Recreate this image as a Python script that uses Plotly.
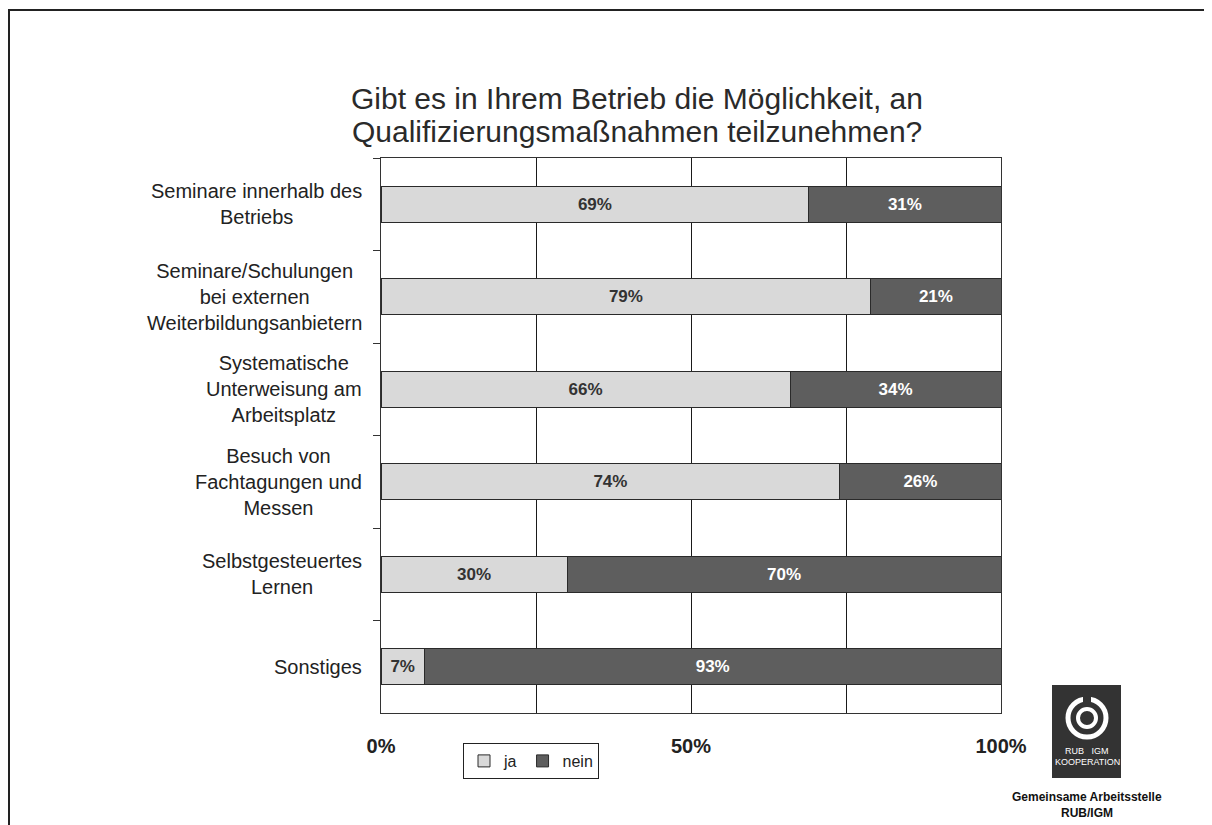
import plotly.graph_objects as go

categories = [
    "Seminare innerhalb des<br>Betriebs",
    "Seminare/Schulungen<br>bei externen<br>Weiterbildungsanbietern",
    "Systematische<br>Unterweisung am<br>Arbeitsplatz",
    "Besuch von<br>Fachtagungen und<br>Messen",
    "Selbstgesteuertes<br>Lernen",
    "Sonstiges",
]
ja = [69, 79, 66, 74, 30, 7]
nein = [31, 21, 34, 26, 70, 93]
x_tickvals = [0, 50, 100]
x_ticktext = ["0%", "50%", "100%"]
title_lines = ["Gibt es in Ihrem Betrieb die Möglichkeit, an",
               "Qualifizierungsmaßnahmen teilzunehmen?"]

W, H = 1212, 825
OFF = 8  # page body margin
# plot area in screenshot pixels: x 381..1001, y 158..713
L = 381 - OFF
T = 158 - OFF
R = W - (1001 - OFF)
B = H - (713 - OFF)
PW, PH = W - L - R, H - T - B


def px(x):
    """screenshot x -> paper x"""
    return (x - OFF - L) / PW


def py(y):
    """screenshot y -> paper y"""
    return (H - B - (y - OFF)) / PH


FONT = "Liberation Sans, Arial, sans-serif"

fig = go.Figure()
fig.add_trace(go.Bar(
    name="ja", y=categories, x=ja, orientation="h",
    marker=dict(color="#d9d9d9", line=dict(color="#2a2a2a", width=1)),
    text=[f"{v}%" for v in ja], textposition="inside", insidetextanchor="middle",
    textangle=0, constraintext="none",
    textfont=dict(family=FONT, size=17, color="#333333", weight="bold"),
))
fig.add_trace(go.Bar(
    name="nein", y=categories, x=nein, orientation="h",
    marker=dict(color="#5e5e5e", line=dict(color="#2a2a2a", width=1)),
    text=[f"{v}%" for v in nein], textposition="inside", insidetextanchor="middle",
    textangle=0, constraintext="none",
    textfont=dict(family=FONT, size=17, color="#ffffff", weight="bold"),
))

annotations = []
for cat in categories:
    annotations.append(dict(
        x=0, xref="paper", y=cat, yref="y", xanchor="right", yanchor="middle",
        align="center", text=cat, showarrow=False, xshift=-17,
        font=dict(family=FONT, size=20, color="#222222"),
    ))

for i, t in enumerate(title_lines):
    annotations.append(dict(
        x=px(637), xref="paper", y=py([98, 131][i]), yref="paper",
        xanchor="center", yanchor="middle", text=t, showarrow=False,
        font=dict(family=FONT, size=30, color="#2a2a2a"),
    ))

# logo texts
annotations += [
    dict(x=px(1087), y=py(751), xref="paper", yref="paper", text="RUB&nbsp;&nbsp;&nbsp;IGM",
         xanchor="center", yanchor="middle", showarrow=False,
         font=dict(family=FONT, size=9, color="#ffffff")),
    dict(x=px(1087), y=py(762), xref="paper", yref="paper", text="KOOPERATION",
         xanchor="center", yanchor="middle", showarrow=False,
         font=dict(family=FONT, size=9, color="#ffffff")),
    dict(x=px(1087), y=py(797), xref="paper", yref="paper", text="Gemeinsame Arbeitsstelle",
         xanchor="center", yanchor="middle", showarrow=False,
         font=dict(family=FONT, size=12, color="#111111", weight="bold")),
    dict(x=px(1087), y=py(813), xref="paper", yref="paper", text="RUB/IGM",
         xanchor="center", yanchor="middle", showarrow=False,
         font=dict(family=FONT, size=12, color="#111111", weight="bold")),
]

shapes = [
    dict(type="rect", xref="paper", yref="paper", x0=px(9), y0=py(10), x1=px(1300), y1=py(900),
         line=dict(color="#222222", width=2), fillcolor="rgba(0,0,0,0)", layer="below"),
    dict(type="rect", xref="paper", yref="paper", x0=px(1052), y0=py(685), x1=px(1121), y1=py(778),
         line=dict(width=0), fillcolor="#333333"),
    dict(type="circle", xref="paper", yref="paper", x0=px(1068), y0=py(699), x1=px(1106), y1=py(737),
         line=dict(color="#ffffff", width=5), fillcolor="rgba(0,0,0,0)"),
    dict(type="circle", xref="paper", yref="paper", x0=px(1078), y0=py(709), x1=px(1096), y1=py(727),
         line=dict(color="#ffffff", width=4), fillcolor="rgba(0,0,0,0)"),
    dict(type="rect", xref="paper", yref="paper", x0=px(1083), y0=py(695), x1=px(1091), y1=py(703),
         line=dict(width=0), fillcolor="#333333"),
]

fig.update_layout(
    width=W, height=H, barmode="stack", bargap=0.61,
    margin=dict(l=L, r=R, t=T, b=B, autoexpand=False),
    paper_bgcolor="white", plot_bgcolor="white",
    font=dict(family=FONT, color="#222222"),
    showlegend=True,
    legend=dict(orientation="h", x=px(531), xanchor="center", y=py(743), yanchor="top",
                bordercolor="#222222", borderwidth=1, bgcolor="white",
                font=dict(family=FONT, size=16, color="#222222"),
                itemwidth=30, tracegroupgap=0, traceorder="normal"),
    xaxis=dict(range=[0, 100], tickvals=x_tickvals, ticktext=x_ticktext,
               showgrid=True, gridcolor="#1a1a1a", gridwidth=1,
               minor=dict(dtick=25, tick0=0, showgrid=True, gridcolor="#1a1a1a", gridwidth=1),
               showline=True, linecolor="#333333", linewidth=1, mirror=True,
               ticks="", ticklabelstandoff=15,
               tickfont=dict(family=FONT, size=20, color="#222222", weight="bold"),
               zeroline=False, fixedrange=True),
    yaxis=dict(autorange="reversed", showticklabels=False, ticks="outside", ticklen=7,
               tickcolor="#333333", tickson="boundaries",
               showline=True, linecolor="#333333", linewidth=1, mirror=True,
               showgrid=False, fixedrange=True),
    annotations=annotations, shapes=shapes,
)

fig.write_html("out.html")
